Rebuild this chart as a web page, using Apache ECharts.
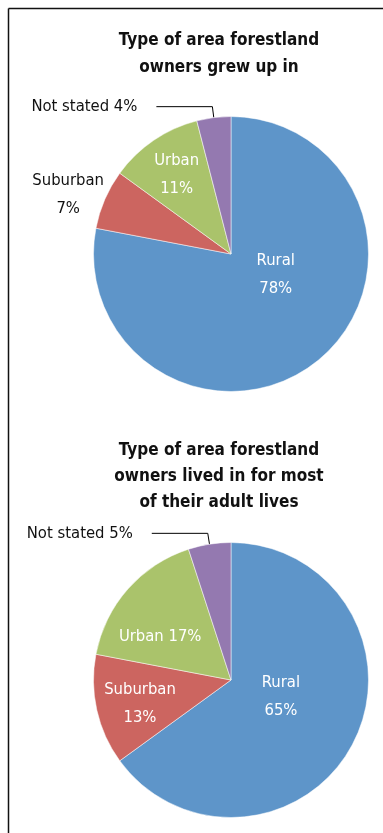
<!DOCTYPE html>
<html>
<head>
<meta charset="utf-8">
<script src="https://cdn.jsdelivr.net/npm/echarts@6/dist/echarts.min.js"></script>
<style>
html,body{margin:0;padding:0;background:#fff;}
#c{width:383px;height:833px;}
</style>
</head>
<body>
<div id="c"></div>
<script>
// ---- data ----
const categories = ['Rural', 'Suburban', 'Urban', 'Not stated'];
const grewUpValues = [78, 7, 11, 4];
const adultLivesValues = [65, 13, 17, 5];
const title1 = 'Type of area forestland\nowners grew up in';
const title2 = 'Type of area forestland\nowners lived in for most\nof their adult lives';
const labelText1 = ['Rural\n78%', 'Suburban\n7%', 'Urban\n11%', 'Not stated 4%'];
const labelText2 = ['Rural\n65%', 'Suburban\n13%', 'Urban 17%', 'Not stated 5%'];

// ---- styles ----
const colors = ['#5E95C9', '#CC6560', '#AAC36B', '#9479B0'];
const FONT = "'Liberation Sans Narrow', 'DejaVu Sans Condensed', 'Arial Narrow', sans-serif";
const labelColors1 = ['#fff', '#111', '#fff', '#111'];
const labelColors2 = ['#fff', '#fff', '#fff', '#111'];
const offsets1 = [[-1, -35], [-97, -31], [-14, -20], null];
const offsets2 = [[-14, -16], [-21, 8], [-17, 4], null];

function buildData(values, texts, lcolors) {
  return categories.map((name, i) => {
    const isOut = name === 'Not stated';
    return {
      name: name,
      value: values[i],
      itemStyle: { color: colors[i] },
      label: {
        show: true,
        position: isOut ? 'outside' : 'inside',
        formatter: texts[i],
        color: lcolors[i],
        fontFamily: FONT,
        fontSize: 16.5,
        lineHeight: 28,
        align: 'center',
        distanceToLabelLine: 19
      },
      labelLine: {
        show: isOut,
        length: 11,
        length2: 56,
        smooth: false,
        lineStyle: { color: '#000', width: 1 }
      }
    };
  });
}

function makeLayout(offs) {
  return function (params) {
    const o = offs[params.dataIndex];
    if (!o) return {};
    return { dx: o[0], dy: o[1] };
  };
}

const chart = echarts.init(document.getElementById('c'), null, { renderer: 'canvas' });
chart.setOption({
  backgroundColor: '#fff',
  animation: false,
  title: [
    {
      text: title1, left: 214, top: 22, textAlign: 'center',
      textStyle: { fontFamily: FONT, fontWeight: 'bold', fontSize: 17, lineHeight: 27, color: '#111' }
    },
    {
      text: title2, left: 214, top: 433, textAlign: 'center',
      textStyle: { fontFamily: FONT, fontWeight: 'bold', fontSize: 17, lineHeight: 26, color: '#111' }
    }
  ],
  graphic: [
    { type: 'line', shape: { x1: 8.5, y1: 8.5, x2: 383, y2: 8.5 }, style: { stroke: '#111', lineWidth: 1.5 } },
    { type: 'line', shape: { x1: 8.5, y1: 8.5, x2: 8.5, y2: 833 }, style: { stroke: '#111', lineWidth: 1.5 } }
  ],
  series: [
    {
      type: 'pie',
      center: [231, 254],
      radius: [0, 137.5],
      startAngle: 90,
      clockwise: true,
      avoidLabelOverlap: false,
      silent: true,
      itemStyle: { borderColor: '#fff', borderWidth: 0.5 },
      data: buildData(grewUpValues, labelText1, labelColors1),
      labelLayout: makeLayout(offsets1)
    },
    {
      type: 'pie',
      center: [231, 680],
      radius: [0, 137.5],
      startAngle: 90,
      clockwise: true,
      avoidLabelOverlap: false,
      silent: true,
      itemStyle: { borderColor: '#fff', borderWidth: 0.5 },
      data: buildData(adultLivesValues, labelText2, labelColors2),
      labelLayout: makeLayout(offsets2)
    }
  ]
});
</script>
</body>
</html>
